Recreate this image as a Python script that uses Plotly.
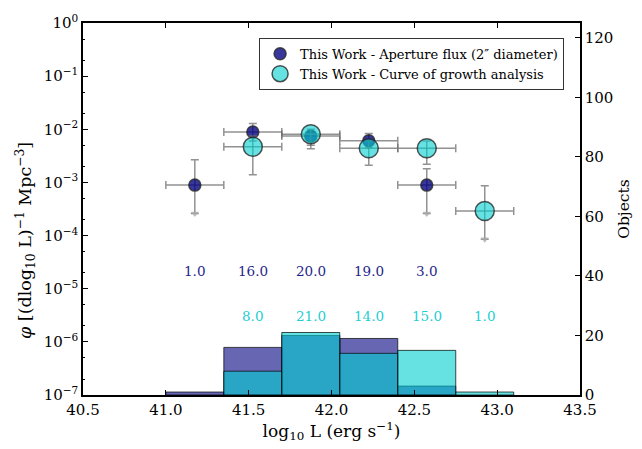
import numpy as np
import plotly.graph_objects as go

# ---- data ----
ap_x = [41.175, 41.525, 41.875, 42.225, 42.575]
ap_y = [8.9e-4, 8.9e-3, 7.5e-3, 6.1e-3, 8.9e-4]
ap_up = [2.66e-3, 1.29e-2, 9.0e-3, 8.3e-3, 1.8e-3]
ap_lo = [2.6e-4, 6.0e-3, 4.3e-3, 4.5e-3, 2.6e-4]
ap_limit = [True, False, False, False, True]

cg_x = [41.525, 41.875, 42.225, 42.575, 42.925]
cg_y = [4.7e-3, 8.1e-3, 4.4e-3, 4.4e-3, 2.9e-4]
cg_up = [7.5e-3, 1.0e-2, 6.0e-3, 6.0e-3, 8.7e-4]
cg_lo = [1.4e-3, 5.0e-3, 2.1e-3, 2.2e-3, 8.5e-5]
cg_limit = [False, False, False, False, True]

bin_half = 0.175
bin_width = 0.35

ap_hist_x = [41.175, 41.525, 41.875, 42.225, 42.575]
ap_counts = [1, 16, 20, 19, 3]
cg_hist_x = [41.525, 41.875, 42.225, 42.575, 42.925]
cg_counts = [8, 21, 14, 15, 1]

ap_label_y = 2.2e-5
cg_label_y = 3.1e-6

ERR = "rgba(110,110,110,0.75)"
FONT = "DejaVu Serif"

fig = go.Figure()

# histograms on secondary axis
fig.add_trace(go.Bar(x=ap_hist_x, y=ap_counts, width=bin_width, yaxis="y2",
                     marker=dict(color="rgba(0,0,128,0.6)",
                                 line=dict(color="rgba(0,0,0,0.7)", width=1)),
                     showlegend=False, hoverinfo="skip"))
fig.add_trace(go.Bar(x=cg_hist_x, y=cg_counts, width=bin_width, yaxis="y2",
                     marker=dict(color="rgba(0,206,209,0.6)",
                                 line=dict(color="rgba(0,0,0,0.7)", width=1)),
                     showlegend=False, hoverinfo="skip"))

def add_series(xs, ys, up, lo, lim, size, fill, name):
    ay = np.array(ys)
    fig.add_trace(go.Scatter(
        x=xs, y=ys, mode="markers", name=name,
        marker=dict(size=size, color=fill, line=dict(color="rgba(40,40,40,0.8)", width=1.5)),
        error_x=dict(type="constant", value=bin_half, color=ERR, thickness=1.5, width=4),
        error_y=dict(type="data", array=list(np.array(up) - ay),
                     arrayminus=list(ay - np.array(lo)), color=ERR, thickness=1.5, width=4),
    ))
    ax_ = [x for x, l in zip(xs, lim) if l]
    ay_ = [v for v, l in zip(lo, lim) if l]
    fig.add_trace(go.Scatter(x=ax_, y=ay_, mode="markers", showlegend=False,
                             marker=dict(symbol="triangle-down", size=7,
                                         color="rgba(170,170,170,0.8)"),
                             hoverinfo="skip"))

add_series(ap_x, ap_y, ap_up, ap_lo, ap_limit, 12, "rgba(0,0,128,0.78)",
           "This Work - Aperture flux (2\u2033 diameter)")
add_series(cg_x, cg_y, cg_up, cg_lo, cg_limit, 19, "rgba(0,206,209,0.6)",
           "This Work - Curve of growth analysis")

annotations = []
for x, c in zip(ap_hist_x, ap_counts):
    annotations.append(dict(x=x, y=np.log10(ap_label_y), xref="x", yref="y",
                            text=f"{c:.1f}", showarrow=False,
                            font=dict(family=FONT, size=13.5, color="#1f1f8c")))
for x, c in zip(cg_hist_x, cg_counts):
    annotations.append(dict(x=x, y=np.log10(cg_label_y), xref="x", yref="y",
                            text=f"{c:.1f}", showarrow=False,
                            font=dict(family=FONT, size=13.5, color="#1fcdd2")))

# left y-axis title as rotated annotation
annotations.append(dict(
    text="<i>φ</i> [(dlog<sub>10</sub> L)<sup>−1</sup> Mpc<sup>−3</sup>]",
    xref="paper", yref="paper", x=-0.116, y=0.415, xanchor="center", yanchor="middle",
    textangle=-90, showarrow=False, font=dict(family=FONT, size=17.5, color="black")))

tickvals = [10.0 ** k for k in range(-7, 1)]
ticktext = [f"10<sup>{'−' if k < 0 else ''}{abs(k)}</sup>" for k in range(-7, 1)]

fig.update_layout(
    width=642, height=449,
    margin=dict(l=83, r=61, t=19, b=54),
    paper_bgcolor="white", plot_bgcolor="white",
    barmode="overlay",
    font=dict(family=FONT, size=15, color="black"),
    annotations=annotations,
    xaxis=dict(range=[40.5, 43.5], dtick=0.5, tickformat=".1f",
               ticks="inside", ticklen=5, tickcolor="black", tickwidth=1.2,
               showline=True, linecolor="black", linewidth=1.5, mirror="ticks",
               showgrid=False, zeroline=False,
               title=dict(text="log<sub>10</sub> L (erg s<sup>−1</sup>)", standoff=5,
                          font=dict(size=17))),
    yaxis=dict(type="log", range=[-7, 0], tickvals=tickvals, ticktext=ticktext,
               ticks="inside", ticklen=5, tickcolor="black", tickwidth=1.2,
               minor=dict(ticks="inside", ticklen=2.5, tickcolor="black", showgrid=False),
               showline=True, linecolor="black", linewidth=1.5, mirror=True,
               showgrid=False, zeroline=False),
    yaxis2=dict(overlaying="y", side="right", range=[0, 125], dtick=20,
                ticks="inside", ticklen=5, tickcolor="black", tickwidth=1.2,
                showline=True, linecolor="black", linewidth=1.5,
                showgrid=False, zeroline=False,
                title=dict(text="Objects", standoff=6, font=dict(size=15.5))),
    legend=dict(x=0.968, y=0.96, xanchor="right", yanchor="top",
                bordercolor="rgba(0,0,0,0.8)", borderwidth=1, bgcolor="white",
                font=dict(size=13), itemsizing="trace", tracegroupgap=0),
)

fig.write_html("out.html")
